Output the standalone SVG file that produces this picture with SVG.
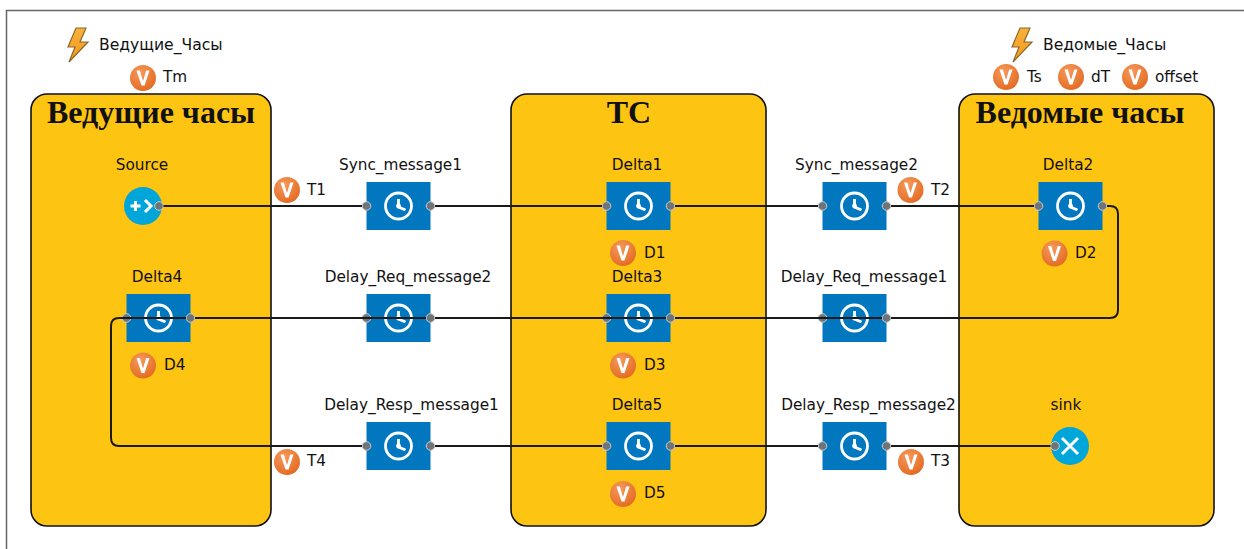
<svg xmlns="http://www.w3.org/2000/svg" width="1244" height="549" viewBox="0 0 1244 549">
<style>
text{font-family:"DejaVu Sans","Noto Sans",sans-serif;font-size:15.300px;fill:#111}
.e{font-size:15.600px}
.c{text-anchor:middle}
.t{font-family:"Liberation Serif",serif;font-size:32px;font-weight:bold;text-anchor:middle}
.box{fill:#fec412;stroke:#111;stroke-width:1.600}
.w{fill:none;stroke:#1a1a1a;stroke-width:2}
.port{fill:#6f7478;stroke:#c9ccce;stroke-width:1}
</style>
<defs>
<radialGradient id="vg" cx="0.4" cy="0.3" r="0.8"><stop offset="0" stop-color="#f59a5c"/><stop offset="1" stop-color="#e2661c"/></radialGradient>
<linearGradient id="lg" x1="0" y1="0" x2="0" y2="1"><stop offset="0" stop-color="#fbb03b"/><stop offset="1" stop-color="#ef9a1e"/></linearGradient>
<g id="v"><circle r="13" fill="url(#vg)"/><path d="M-6.500,-7.500 L-1.500,7.500 H1.500 L6.500,-7.500 H3.200 L0,3 L-3.200,-7.500 Z" fill="#fff"/></g>
<g id="delay"><rect x="-32" y="-24" width="64" height="48" fill="#0177bf"/><circle r="13" fill="none" stroke="#fff" stroke-width="2.800"/><path d="M0,-7 V1 L7,4" fill="none" stroke="#fff" stroke-width="2.800"/><circle r="2.400" fill="#fff"/><circle cx="-32" r="4.300" class="port"/><circle cx="32" r="4.300" class="port"/></g>
<path id="bolt" d="M76,28 H86 L80,42 H88 L69,62 L75,47 H68 Z" fill="url(#lg)" stroke="#8a6a2a" stroke-width="1.200"/>
</defs>
<path d="M6.500,549 V10.500 H1244" fill="none" stroke="#666" stroke-width="1.500"/>
<g id="Ведущие_часы"><rect class="box" x="31" y="94" width="240" height="432" rx="16"/><text class="t" x="151" y="123">Ведущие часы</text></g>
<g id="TC"><rect class="box" x="511" y="94" width="255" height="432" rx="16"/><text class="t" x="629" y="123">TC</text></g>
<g id="Ведомые_часы"><rect class="box" x="959" y="94" width="255" height="432" rx="16"/><text class="t" x="1080" y="123">Ведомые часы</text></g>
<g id="event_master"><use href="#bolt"/><text class="e" x="99" y="50">Ведущие_Часы</text></g>
<g id="event_slave"><use href="#bolt" x="944"/><text class="e" x="1043" y="50">Ведомые_Часы</text></g>
<g id="Tm"><use href="#v" x="143" y="78"/><text x="163" y="82">Tm</text></g>
<g id="Ts"><use href="#v" x="1006" y="77"/><text x="1027" y="82">Ts</text></g>
<g id="dT"><use href="#v" x="1071" y="77"/><text x="1091" y="82">dT</text></g>
<g id="offset"><use href="#v" x="1135" y="77"/><text x="1155" y="82">offset</text></g>
<g id="Source"><text class="c" x="142" y="170">Source</text><circle cx="143" cy="206" r="19" fill="#00a5da"/><path d="M130.500,206 H140.500 M135.500,201 V211 M145,200 L151,206 L145,212" fill="none" stroke="#fff" stroke-width="3"/><circle cx="159" cy="206" r="4.300" class="port"/></g>
<g id="T1"><use href="#v" x="287" y="190"/><text x="307" y="195">T1</text></g>
<g id="Sync_message1"><text class="c" x="400.500" y="170">Sync_message1</text><use href="#delay" x="398.500" y="206"/></g>
<g id="Delta1"><text class="c" x="637" y="170">Delta1</text><use href="#delay" x="638.500" y="206"/></g>
<g id="D1"><use href="#v" x="623" y="253"/><text x="644" y="258">D1</text></g>
<g id="Sync_message2"><text class="c" x="856.500" y="170">Sync_message2</text><use href="#delay" x="854.500" y="206"/></g>
<g id="T2"><use href="#v" x="910.500" y="190"/><text x="931" y="195">T2</text></g>
<g id="Delta2"><text class="c" x="1068" y="170">Delta2</text><use href="#delay" x="1070.500" y="206"/></g>
<g id="D2"><use href="#v" x="1054.500" y="253.500"/><text x="1075" y="258">D2</text></g>
<g id="Delta4"><text class="c" x="157" y="282">Delta4</text><use href="#delay" x="158.500" y="318"/></g>
<g id="D4"><use href="#v" x="143" y="365.500"/><text x="164" y="370">D4</text></g>
<g id="Delay_Req_message2"><text class="c" x="408" y="282">Delay_Req_message2</text><use href="#delay" x="398.500" y="318"/></g>
<g id="Delta3"><text class="c" x="637" y="282">Delta3</text><use href="#delay" x="638.500" y="318"/></g>
<g id="D3"><use href="#v" x="623" y="365.500"/><text x="644" y="370">D3</text></g>
<g id="Delay_Req_message1"><text class="c" x="864" y="282">Delay_Req_message1</text><use href="#delay" x="854.500" y="318"/></g>
<g id="Delay_Resp_message1"><text class="c" x="411.500" y="410">Delay_Resp_message1</text><use href="#delay" x="398.500" y="446"/></g>
<g id="T4"><use href="#v" x="287" y="462"/><text x="307" y="466">T4</text></g>
<g id="Delta5"><text class="c" x="637" y="410">Delta5</text><use href="#delay" x="638.500" y="446"/></g>
<g id="D5"><use href="#v" x="623" y="494"/><text x="644" y="498">D5</text></g>
<g id="Delay_Resp_message2"><text class="c" x="868.500" y="410">Delay_Resp_message2</text><use href="#delay" x="854.500" y="446"/></g>
<g id="T3"><use href="#v" x="911" y="462"/><text x="931" y="466">T3</text></g>
<g id="sink"><text class="c" x="1066" y="410">sink</text><circle cx="1070" cy="446" r="19" fill="#00a5da"/><path d="M1062,438 L1078,454 M1078,438 L1062,454" fill="none" stroke="#fff" stroke-width="3"/><circle cx="1055" cy="446" r="4.300" class="port"/></g>
<g id="connectors">
<path class="w" d="M163.500,206 H362 M435,206 H602 M675,206 H818 M891,206 H1034"/>
<path class="w" d="M1107,206 H1110 Q1118,206 1118,214 V310 Q1118,318 1110,318 H891 M882,318 H675 M666,318 H435 M426,318 H195 M186,318 H119 Q111,318 111,326 V438 Q111,446 119,446 H362 M435,446 H602 M675,446 H818 M891,446 H1050.500"/>
</g>
</svg>
